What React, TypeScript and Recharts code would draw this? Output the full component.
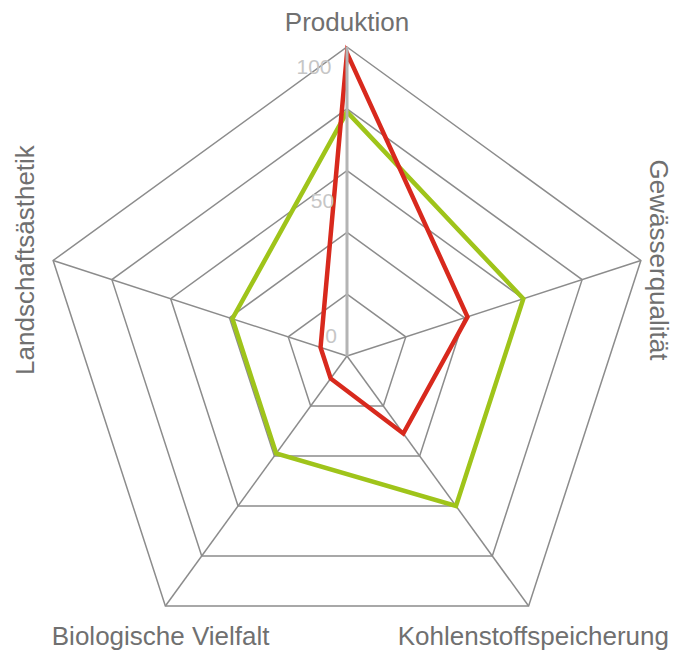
import React from 'react'
import {
  RadarChart,
  Radar,
  PolarGrid,
  PolarAngleAxis,
  PolarRadiusAxis,
} from 'recharts'

// Categories, clockwise from the top
const categories = [
  'Produktion',
  'Gewässerqualität',
  'Kohlenstoffspeicherung',
  'Biologische Vielfalt',
  'Landschaftsästhetik',
]

// Series values (0-100)
const redValues = [98, 41, 31, 9, 9]
const greenValues = [79, 60, 60, 39, 39]

// Grid rings and the visible scale labels
const gridTicks = [0, 20, 40, 60, 80, 100]
const labelTicks = [0, 50, 100]

const data = categories.map((name, i) => ({
  name,
  red: redValues[i],
  green: greenValues[i],
}))

const CX = 347
const CY = 356
const OUTER = 309
const MAX = 100
const FONT = '"Liberation Sans", Arial, Helvetica, sans-serif'

function AngleTick(props: any) {
  const { x, y, payload, index } = props
  const common = { fontFamily: FONT, fontSize: 26, fill: '#707070' }
  if (index === 0) {
    return (
      <text x={x} y={y - 8} textAnchor="middle" {...common}>
        {payload.value}
      </text>
    )
  }
  if (index === 1) {
    return (
      <text
        transform={`translate(${x + 2}, ${y + 2}) rotate(90)`}
        textAnchor="middle"
        {...common}
      >
        {payload.value}
      </text>
    )
  }
  if (index === 4) {
    return (
      <text
        transform={`translate(${x - 12}, ${y + 2}) rotate(-90)`}
        textAnchor="middle"
        {...common}
      >
        {payload.value}
      </text>
    )
  }
  return (
    <text x={x} y={y + 33} textAnchor="middle" {...common}>
      {payload.value}
    </text>
  )
}

function RadiusLabel(props: any) {
  const { x, y, payload } = props
  const t = payload.value / MAX
  const lx = x - 16 - 17 * t
  const ly = CY + (y - CY) * 0.87 - 21
  return (
    <text
      x={lx}
      y={ly}
      textAnchor="middle"
      dominantBaseline="central"
      fontFamily={FONT}
      fontSize={21}
      fill="#c6c6c6"
    >
      {payload.value}
    </text>
  )
}

export default function App() {
  return (
    <div style={{ position: 'absolute', left: 0, top: 0, background: '#fff' }}>
      <RadarChart
        width={673}
        height={657}
        cx={CX}
        cy={CY}
        outerRadius={OUTER}
        data={data}
        margin={{ top: 0, right: 0, bottom: 0, left: 0 }}
      >
        <PolarGrid
          gridType="polygon"
          polarRadius={gridTicks.map((v) => (v / MAX) * OUTER)}
          stroke="#8c8c8c"
          strokeWidth={1.5}
        />
        <PolarAngleAxis
          dataKey="name"
          tick={<AngleTick />}
          tickLine={false}
          axisLine={false}
        />
        <PolarRadiusAxis
          angle={90}
          type="number"
          domain={[0, MAX]}
          ticks={labelTicks}
          tick={<RadiusLabel />}
          tickLine={false}
          axisLine={{ stroke: '#b4b4b4', strokeWidth: 3 }}
        />
        <Radar
          dataKey="green"
          stroke="#9fc41a"
          strokeWidth={4.5}
          fill="none"
          fillOpacity={0}
          dot={false}
          isAnimationActive={false}
        />
        <Radar
          dataKey="red"
          stroke="#d8291d"
          strokeWidth={4.5}
          fill="none"
          fillOpacity={0}
          dot={false}
          isAnimationActive={false}
        />
      </RadarChart>
    </div>
  )
}
